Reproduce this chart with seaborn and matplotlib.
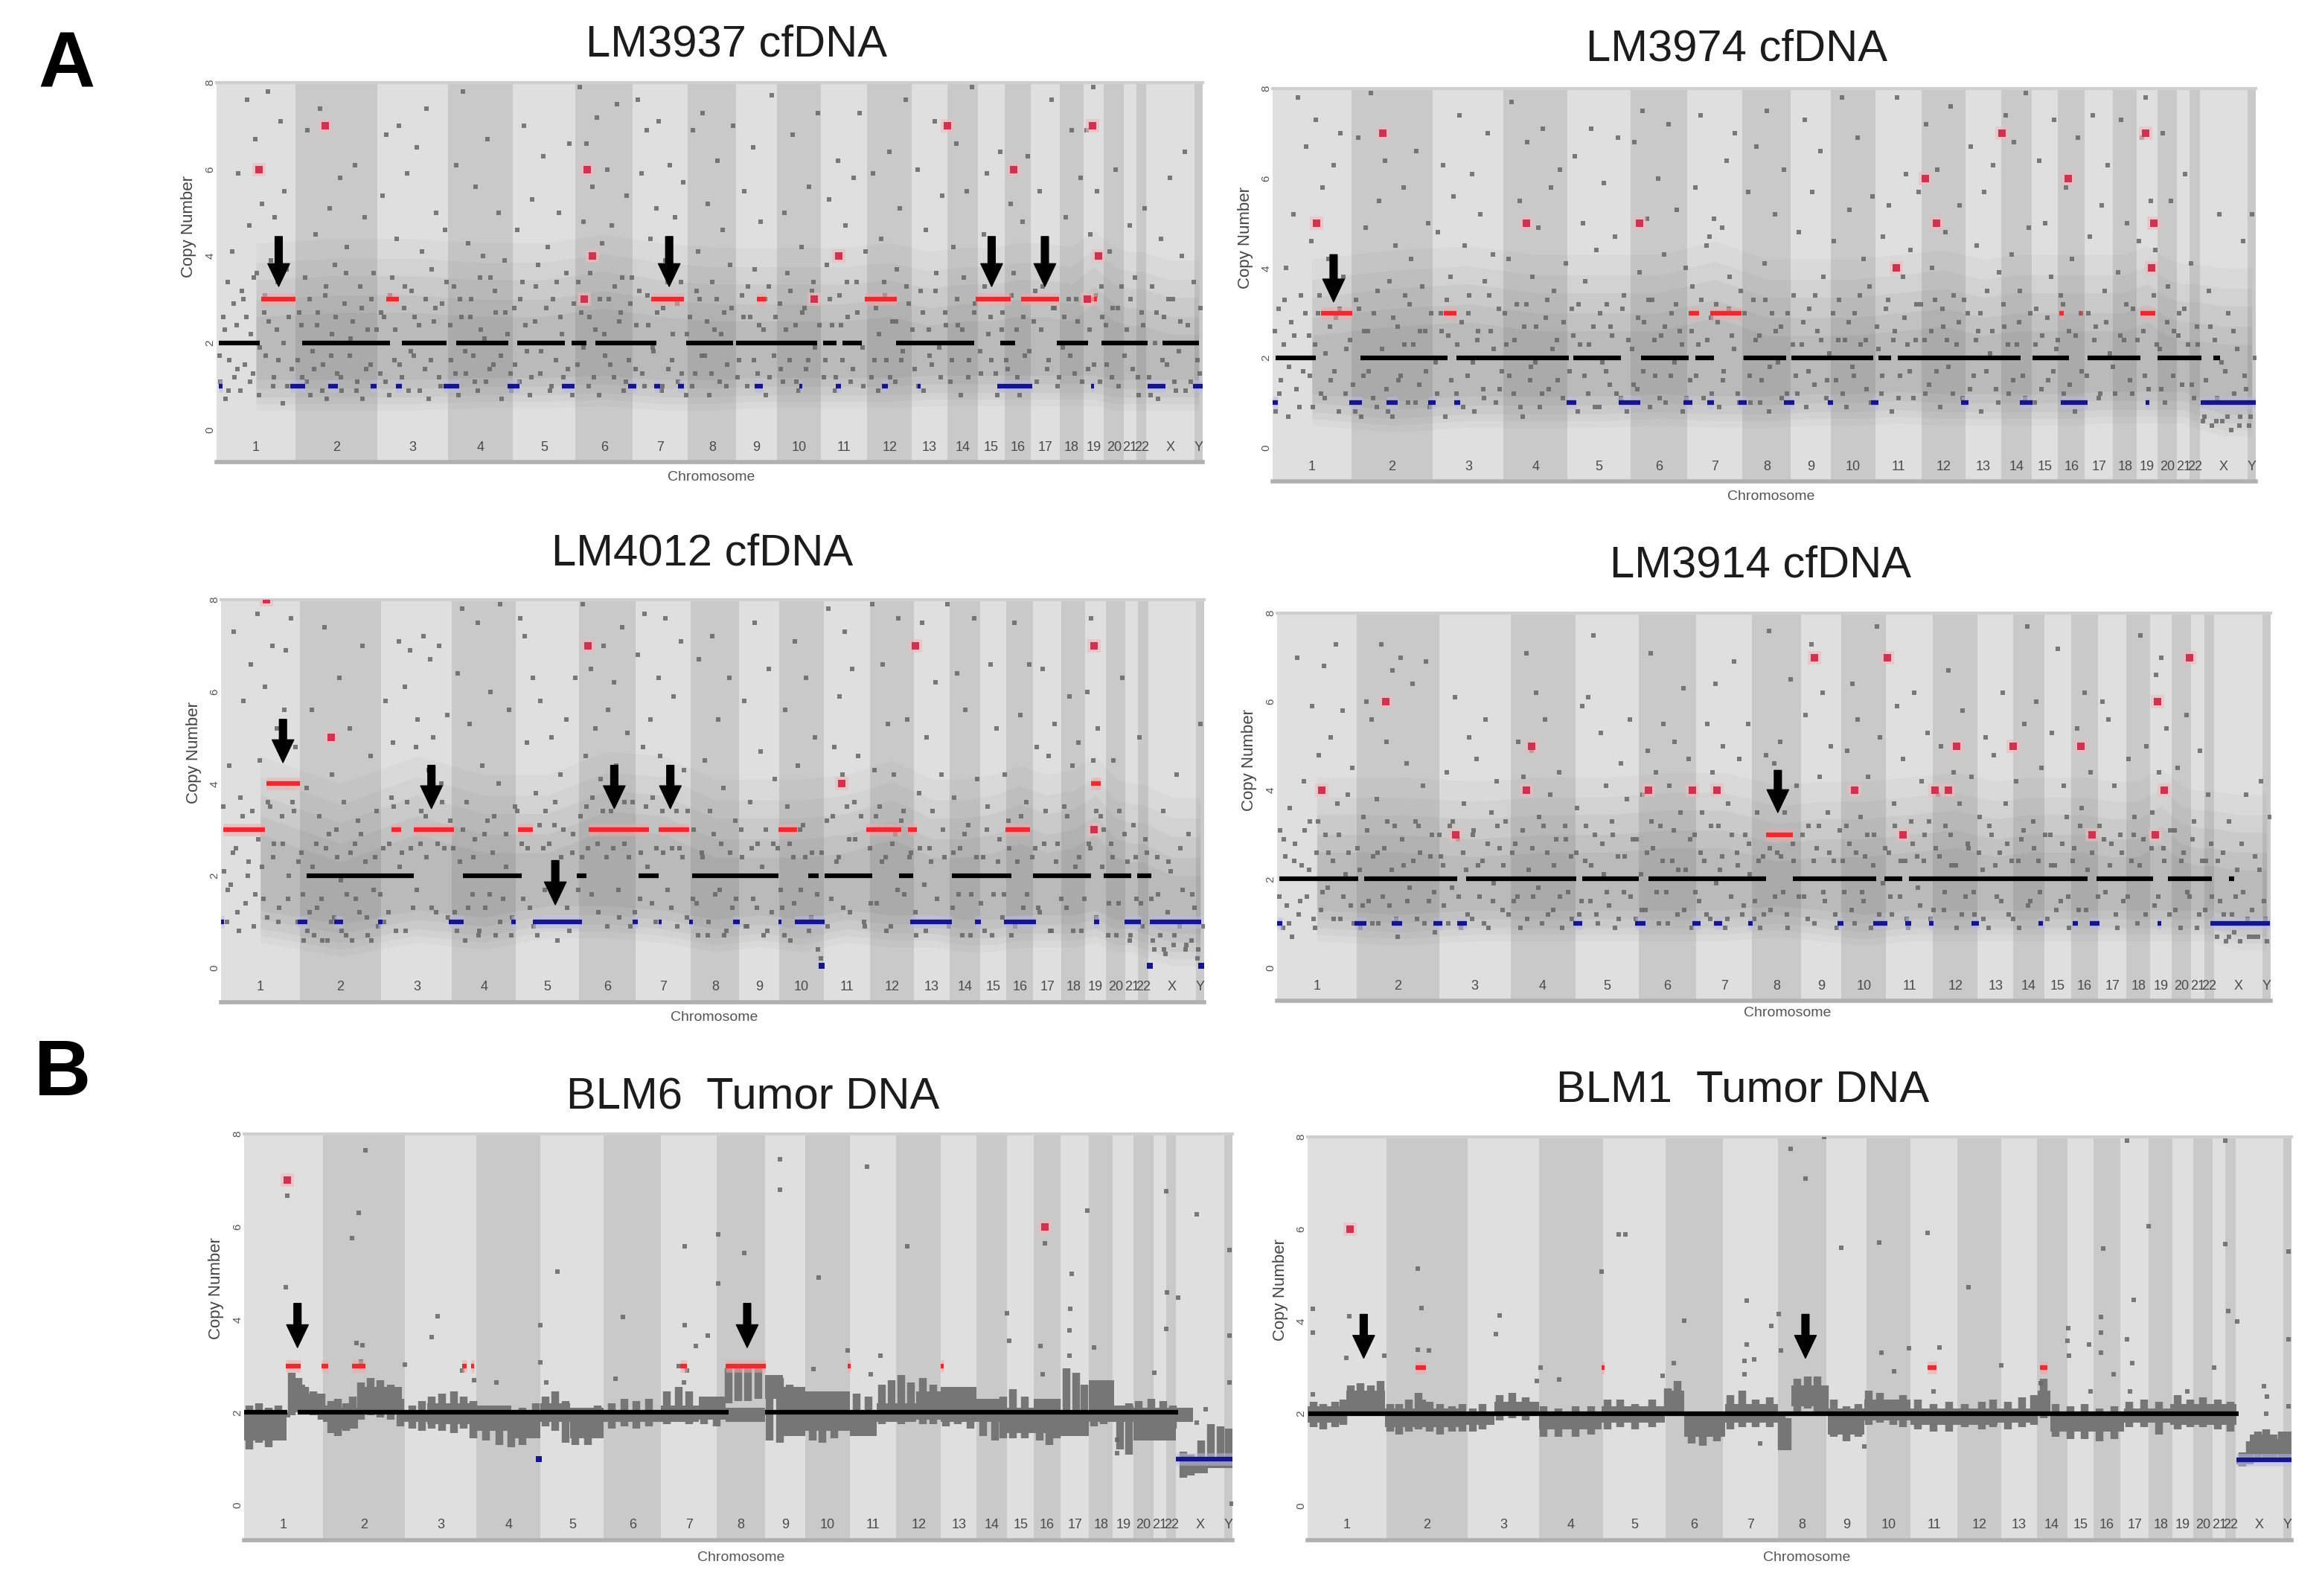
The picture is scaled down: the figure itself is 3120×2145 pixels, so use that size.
import matplotlib
matplotlib.use("Agg")
import matplotlib.pyplot as plt
import seaborn as sns
import pandas as pd

W, H = 3120, 2145

# chromosome ends along the genome axis, 0-1000
chrom_names = ['1','2','3','4','5','6','7','8','9','10','11','12','13','14','15','16','17','18','19','20','21','22','X','Y']
chrom_end = [80,163,235,300,364,422,478,527,568,613,660,705,741,772,799,826,855,879,900,920,933,943,992,1000]
cn_ticks = [0,2,4,6,8]

# soft layers of the cfDNA cloud: shift of the upper / lower edge, opacity
cloud_top_shift = [1.0,0.55,0.15,-0.3,-0.7]
cloud_low_shift = [-0.25,-0.1,0.05,0.25,0.45]
cloud_alpha = [0.05,0.06,0.07,0.08,0.09]

# ---- LM3937
lm3937_black = [(2,44),(87,176),(188,233),(243,296),(305,353),(360,375),(384,446),(476,524),(527,609),(615,629),(635,654),(689,768),(795,810),(852,884),(897,944),(959,996)]
lm3937_red = [(45,80),(172,185),(441,474),(657,690),(770,805),(816,854),(548,557),(885,893)]
lm3937_blue = [(2,6),(75,90),(113,123),(156,162),(182,188),(230,246),(295,307),(350,363),(417,426),(444,450),(468,474),(546,554),(591,594),(628,633),(675,681),(711,714),(792,827),(887,890),(944,962),(990,1000)]
lm3937_spots = [(43,6),(110,7),(376,6),(381,4),(373,3),(631,4),(741,7),(808,6),(888,7),(894,4),(883,3),(606,3)]
lm3937_arrows = [(63,4.45,3.3),(459,4.45,3.3),(786,4.45,3.3),(840,4.45,3.3)]
lm3937_hi = [3.3,3.4,3.4,3.3,3.3,3.5,3.3,3.2,3.2,3.2,3.2,3.3,3.1,3.2,3.2,3.3,3.3,3.2,3.6,3.2,3.1,3.1,2.9,2.9]
lm3937_lo = [0.7,0.7,0.7,0.75,0.75,0.8,0.7,0.7,0.75,0.75,0.75,0.75,0.8,0.8,0.8,0.8,0.8,0.8,0.8,0.7,0.7,0.7,0.7,0.7]
lm3937_probes = [(4,1.1),(7,2.6),(9,0.7),(11,3.4),(13,1.6),(16,4.1),(18,1.2),(20,2.4),(22,5.9),(24,0.9),(27,3.0),(29,1.5),(31,7.6),(33,4.7),(35,2.2),(37,1.3),(39,6.7),(41,3.6),(43,0.8),(46,5.2),(48,2.7),(50,1.7),(52,7.8),(55,3.9),(57,1.0),(59,4.9),(61,2.3),(63,1.6),(65,7.1),(67,0.6),(69,5.5),(71,3.7),(73,2.6),(76,1.4),
(84,2.7),(87,1.2),(90,3.5),(92,6.9),(95,0.8),(97,1.8),(100,4.5),(102,2.4),(105,7.4),(108,1.5),(110,3.1),(112,0.7),(115,5.1),(117,2.2),(120,3.8),(122,1.3),(125,5.8),(127,0.9),(130,2.9),(132,4.2),(135,1.7),(138,2.5),(140,6.1),(143,1.1),(146,3.3),(148,0.7),(150,4.9),(153,2.3),(156,1.5),(159,3.6),
(166,1.3),(168,5.4),(170,2.6),(172,6.8),(175,0.8),(178,3.5),(180,1.6),(183,4.4),(185,7.0),(188,1.2),(190,2.8),(193,5.9),(195,0.9),(198,3.2),(200,1.7),(203,6.5),(205,2.4),(208,4.1),(211,1.4),(213,7.4),(215,0.7),(218,3.7),(220,2.5),(223,5.0),(226,1.2),(229,2.9),(232,4.6),
(238,1.6),(241,3.3),(243,6.1),(245,0.8),(248,2.6),(250,7.8),(253,1.3),(255,4.3),(258,3.0),(260,1.7),(263,5.6),(265,0.9),(268,2.3),(270,4.0),(273,1.1),(275,6.7),(278,3.5),(281,1.5),(283,2.7),(286,5.0),(289,0.7),(292,3.9),(295,2.2),(298,1.3),
(302,2.8),(305,4.6),(307,1.1),(310,3.4),(312,7.0),(315,1.8),(318,0.8),(320,5.3),(323,2.5),(326,3.8),(328,1.3),(331,6.3),(333,2.0),(336,4.2),(338,0.9),(341,3.0),(344,1.6),(347,5.0),(349,2.6),(352,1.2),(355,3.6),(358,6.6),(361,0.8),
(366,1.5),(368,7.9),(370,2.7),(372,4.8),(375,6.6),(377,1.0),(379,3.6),(381,5.6),(384,2.3),(386,7.2),(388,0.8),(391,4.3),(394,1.7),(396,6.0),(398,3.0),(401,4.7),(403,1.2),(406,7.5),(408,2.5),(411,3.5),(413,0.9),(416,5.4),(418,1.6),(420,2.9),
(425,1.4),(427,7.6),(429,3.2),(431,5.9),(434,1.0),(436,6.9),(438,2.4),(440,4.4),(443,1.8),(446,5.1),(448,7.1),(451,0.9),(453,2.8),(455,3.9),(458,1.4),(460,6.1),(463,2.2),(465,4.9),(468,1.1),(471,3.4),(473,5.7),(476,0.8),
(480,2.6),(483,6.9),(485,1.3),(488,4.1),(490,3.0),(493,7.3),(495,1.7),(498,5.2),(500,0.8),(503,3.4),(505,2.3),(508,6.2),(510,1.1),(513,4.6),(515,2.7),(518,1.5),(521,3.8),(524,7.0),
(530,1.6),(533,3.1),(535,5.5),(538,1.0),(541,2.6),(544,6.5),(546,3.7),(549,1.3),(552,4.8),(555,2.3),(557,0.8),(560,3.3),(563,7.7),(565,1.7),
(571,2.9),(574,1.1),(576,5.0),(579,3.6),(581,1.6),(584,6.8),(587,2.4),(590,0.9),(593,4.2),(596,2.8),(598,1.4),(601,5.6),(604,3.2),(607,1.9),(610,7.3),
(616,1.2),(619,3.8),(621,5.3),(624,2.4),(627,0.9),(630,6.2),(632,3.1),(635,1.6),(638,4.7),(640,2.6),(643,1.1),(646,5.8),(649,3.4),(652,7.3),(655,1.9),(658,4.1),
(664,1.2),(666,5.9),(669,2.8),(671,0.9),(674,4.4),(677,3.4),(679,1.6),(682,6.4),(685,2.5),(688,1.1),(690,3.7),(693,5.1),(696,1.8),(699,7.6),(702,2.9),
(708,1.4),(711,6.0),(714,3.2),(717,0.9),(719,4.6),(722,2.3),(725,1.5),(728,7.1),(730,3.6),(733,1.9),(736,5.4),(739,2.7),
(744,1.1),(747,4.2),(750,6.6),(752,2.4),(755,0.8),(758,3.5),(761,5.5),(763,1.6),(766,7.9),(769,2.9),
(775,1.3),(778,4.5),(781,5.9),(783,2.2),(786,1.6),(789,3.7),(792,0.8),(795,6.4),(797,2.7),
(802,1.4),(805,5.2),(808,3.6),(811,2.3),(814,0.8),(817,4.8),(820,1.7),(823,6.3),
(829,2.5),(832,1.1),(835,5.5),(838,3.3),(841,4.2),(844,1.6),(847,7.6),(850,2.8),(853,1.0),
(858,1.9),(861,4.9),(864,3.0),(867,6.9),(870,1.3),(873,2.5),(876,5.8),
(882,6.9),(884,1.4),(886,4.5),(889,7.9),(891,3.1),(893,5.5),(896,1.1),(898,2.6),
(903,1.5),(906,4.1),(909,2.8),(912,6.0),(915,1.0),(918,3.3),
(923,2.3),(926,4.7),(929,1.4),(931,3.5),(935,0.8),(938,2.7),(941,5.1),
(946,1.2),(949,3.3),(952,2.0),(955,0.7),(958,4.4),(961,2.6),(964,1.5),(967,5.8),(970,3.0),(973,0.9),(976,1.8),(979,4.0),(982,6.4),(985,2.4),(988,1.1),(991,3.4),(995,1.6),(998,2.8)]
lm3937_dense = [(3,1.7),(8,2.3),(12,0.9),(17,2.9),(21,1.4),(26,3.2),(30,2.6),(34,1.1),(38,3.5),(44,1.9),(49,3.1),(53,2.5),(58,1.2),(62,3.4),(68,2.0),(72,1.0),(78,3.0),(82,1.6),(86,2.4),(91,1.1),(94,3.0),(99,1.4),(103,2.7),(107,0.9),(111,3.3),(116,1.7),(121,2.6),(126,1.2),(131,3.6),(136,2.1),(142,0.9),(147,2.8),(152,1.4),(157,3.0),(162,2.3),
(167,2.7),(171,1.1),(176,3.1),(181,2.3),(186,1.5),(191,3.3),(197,1.8),(201,2.6),(206,0.9),(212,3.0),(217,1.6),(222,2.8),(227,1.0),(233,3.4),(237,2.4),(242,1.3),(247,3.0),(252,1.8),(257,2.6),(262,1.1),(267,3.5),(272,2.1),(277,1.4),(282,3.2),(288,1.7),(293,2.7),(299,0.9),
(303,1.5),(308,3.0),(313,2.4),(319,1.2),(324,3.3),(329,1.8),(334,2.8),(340,1.0),(345,3.4),(350,2.2),(356,1.4),(362,2.9),(367,3.4),(372,1.9),(378,2.6),(383,1.2),(389,3.0),(393,2.2),(399,1.5),(404,3.3),(410,2.7),(415,1.1),(421,3.5),
(426,2.4),(432,1.3),(437,3.1),(442,1.9),(447,2.7),(452,1.0),(457,3.4),(462,1.6),(467,2.9),(472,1.3),(477,2.2),(482,1.0),(487,3.2),(492,1.7),(497,2.5),(502,1.3),(507,3.0),(512,2.2),(517,1.0),(522,2.8),(528,1.2),(534,2.6),(539,3.3),(545,1.6),(550,2.4),(556,3.0),(561,1.2),(567,2.6),
(572,1.4),(577,2.3),(582,3.2),(588,1.1),(594,2.7),(600,1.6),(605,3.4),(611,2.4),(617,1.6),(622,3.0),(628,1.2),(633,2.4),(639,3.4),(645,1.4),(650,2.7),(656,1.0),(661,3.0),(667,1.6),(672,2.2),(678,3.1),(683,1.2),(689,2.5),(694,1.6),(700,3.3),(706,2.3),
(712,1.0),(716,2.7),(723,1.7),(729,3.2),(734,1.2),(740,2.4),(746,1.6),(751,3.0),(756,2.3),(762,1.2),(768,2.7),(774,1.8),(779,3.3),(785,2.6),(790,1.3),(796,2.3),(801,1.6),(806,3.1),(812,1.2),(818,2.6),(824,1.8),(830,3.2),(836,2.3),(842,1.4),(848,2.8),(854,1.2),(860,2.6),(866,1.7),(872,3.0),(878,1.1),(885,2.3),(890,1.5),(897,3.3),(902,2.4),(908,1.2),(914,2.8),(921,1.7),(927,3.0),(934,1.2),(940,2.4),(947,0.8),(953,2.7),(959,1.6),(965,3.0),(971,1.1),(977,2.5),(983,0.9),(990,2.0),(997,1.3)]

# ---- LM3974
lm3974_black = [(3,44),(89,178),(187,301),(306,354),(375,423),(430,449),(479,522),(528,611),(616,629),(636,761),(773,810),(829,883),(900,945),(957,964)]
lm3974_red = [(49,81),(174,187),(423,434),(445,477),(800,805),(821,823),(883,898)]
lm3974_blue = [(0,5),(78,91),(116,127),(158,166),(185,191),(299,309),(352,374),(418,427),(442,449),(474,482),(520,531),(565,570),(609,616),(700,708),(760,773),(802,829),(888,892),(944,1000)]
lm3974_spots = [(45,5),(112,7),(258,5),(373,5),(634,4),(664,6),(675,5),(742,7),(809,6),(888,7),(896,5),(894,4)]
lm3974_arrows = [(62,4.3,3.25)]
lm3974_hi = [3.2,3.4,3.5,3.3,3.3,3.3,3.6,3.2,3.2,3.2,3.3,3.4,3.2,3.3,3.3,3.3,3.3,3.3,3.5,3.2,3.1,3.1,3.0,3.0]
lm3974_lo = [0.75,0.6,0.7,0.7,0.7,0.75,0.7,0.7,0.75,0.75,0.8,0.75,0.75,0.75,0.75,0.75,0.8,0.8,0.8,0.8,0.8,0.7,0.5,0.5]
lm3974_probes = [(3,0.8),(6,3.1),(8,1.5),(11,2.3),(14,4.0),(16,0.7),(19,2.8),(21,5.2),(24,1.3),(26,7.8),(29,3.4),(31,1.7),(34,6.7),(37,2.5),(39,4.6),(41,0.9),(44,7.3),(46,3.0),(49,1.2),(51,5.8),(54,2.1),(57,4.2),(59,1.5),(62,6.3),(64,2.9),(67,0.8),(69,7.0),(72,3.8),(75,2.2),
(82,1.4),(85,3.3),(87,6.9),(90,0.7),(93,2.6),(95,4.9),(98,1.7),(100,7.9),(103,3.0),(106,0.9),(108,5.5),(111,2.2),(114,6.4),(116,1.3),(119,3.7),(122,0.7),(125,4.5),(127,2.7),(130,1.6),(133,5.8),(135,3.4),(138,1.0),(141,4.2),(143,2.3),(146,6.6),(149,1.4),(152,3.6),(155,2.6),(158,5.0),(160,0.9),
(166,1.9),(168,4.8),(171,3.0),(173,6.3),(176,0.7),(179,2.5),(181,3.8),(184,5.6),(187,1.2),(190,7.4),(192,2.8),(195,4.5),(198,1.6),(200,3.4),(203,6.1),(205,0.8),(208,2.4),(211,5.2),(214,1.3),(216,3.7),(219,7.0),(222,2.6),(224,4.3),(227,1.0),(230,3.1),(233,1.7),
(238,2.3),(240,4.2),(243,7.7),(245,1.2),(248,3.2),(251,5.5),(254,0.7),(256,2.7),(259,6.8),(262,1.5),(264,3.8),(267,1.9),(270,4.9),(272,0.9),(275,7.1),(278,2.9),(281,1.3),(283,5.8),(286,3.5),(289,2.4),(292,6.2),(295,1.1),(298,4.1),
(302,1.7),(304,3.1),(307,6.5),(310,0.8),(313,2.3),(316,5.0),(318,3.7),(321,1.2),(324,7.1),(326,2.7),(329,4.4),(332,0.9),(335,1.9),(337,5.9),(340,3.2),(343,1.4),(345,2.5),(348,4.7),(351,6.9),(354,1.1),(357,3.4),(360,0.8),
(366,2.2),(368,6.8),(371,1.3),(373,3.9),(376,7.5),(378,2.8),(381,5.1),(384,0.9),(386,3.3),(389,1.6),(392,6.0),(395,2.5),(398,4.3),(400,1.0),(403,7.2),(406,3.0),(409,1.9),(411,5.3),(414,2.6),(417,0.8),(420,4.0),
(425,1.5),(427,3.6),(430,5.8),(433,2.3),(435,7.4),(438,1.1),(441,4.5),(444,4.7),(446,2.9),(449,5.1),(451,3.2),(454,0.9),(457,4.9),(459,1.7),(462,6.4),(465,3.8),(467,2.5),(470,7.0),(473,1.2),(476,3.5),
(481,2.0),(484,5.7),(486,1.0),(489,3.3),(492,6.7),(495,2.5),(497,1.5),(500,4.1),(503,7.5),(505,0.8),(508,3.0),(511,5.2),(514,1.9),(517,2.7),(520,6.2),(523,1.2),
(530,3.4),(532,1.6),(535,4.8),(538,2.3),(541,7.3),(543,0.9),(546,3.1),(549,5.7),(551,1.4),(554,2.6),(557,6.6),(560,3.8),(563,1.1),(566,2.1),
(571,4.6),(573,1.5),(576,3.3),(579,7.8),(582,2.4),(584,0.9),(587,5.3),(590,1.8),(592,3.0),(595,6.9),(598,2.3),(601,4.2),(604,1.3),(607,3.6),(610,5.6),
(616,2.2),(619,1.2),(621,4.7),(624,3.1),(627,5.4),(630,0.8),(633,2.6),(635,7.8),(638,1.6),(641,3.8),(644,6.1),(646,2.3),(649,4.4),(652,1.1),(655,3.2),(657,5.7),
(663,2.4),(665,7.2),(668,1.4),(671,4.0),(674,3.3),(676,6.2),(679,0.9),(682,2.7),(684,4.8),(687,1.8),(690,7.6),(693,3.4),(696,2.3),(699,5.4),(702,1.1),
(707,3.0),(710,6.7),(713,1.6),(716,4.5),(718,2.6),(721,0.8),(724,5.7),(727,3.5),(730,2.1),(733,6.3),(736,1.3),(739,3.9),
(744,2.7),(746,7.4),(749,1.2),(752,4.3),(754,6.8),(757,2.3),(760,3.5),(763,1.6),(766,7.9),(769,4.9),
(775,1.0),(777,3.1),(780,6.4),(783,2.5),(786,5.0),(789,1.5),(792,3.8),(795,7.3),(797,2.2),
(802,3.4),(805,1.2),(807,5.8),(810,2.6),(813,4.2),(816,0.8),(819,6.9),(822,3.0),
(828,1.6),(831,4.7),(834,7.4),(837,2.7),(840,1.1),(843,5.4),(846,3.5),(849,6.3),(852,2.1),
(857,1.2),(860,3.9),(863,7.3),(866,2.4),(869,5.0),(872,1.5),(875,3.1),
(881,4.6),(884,6.9),(886,2.6),(888,7.8),(891,1.3),(893,5.5),(896,3.4),(898,4.4),
(902,2.2),(905,7.0),(908,1.0),(911,3.6),(914,5.5),(917,2.6),
(922,3.0),(925,1.4),(928,6.1),(931,2.3),(934,4.1),(937,1.1),(940,2.7),
(946,0.6),(949,1.5),(952,3.5),(955,0.5),(958,2.4),(961,1.1),(963,5.2),(966,0.6),(969,1.7),(972,3.0),(975,0.4),(978,1.2),(981,2.2),(984,0.7),(987,4.6),(990,1.3),(993,0.5),(996,5.2),(999,2.0)]
lm3974_dense = [(2,2.6),(7,1.2),(12,3.3),(17,1.8),(22,2.5),(27,0.9),(33,3.0),(38,1.6),(43,2.3),(48,3.4),(53,1.1),(58,2.7),(63,1.7),(68,3.1),(74,1.2),(79,2.4),(84,0.8),(88,3.1),(92,1.6),(97,2.6),(102,1.1),(107,3.5),(112,2.0),(117,0.8),(123,2.9),(128,1.5),(134,2.3),(139,3.2),(145,1.0),(150,2.6),(156,1.7),(161,3.0),
(167,1.2),(172,2.6),(177,3.3),(182,1.5),(188,2.3),(194,0.9),(199,3.0),(204,1.9),(209,2.6),(215,1.1),(220,3.4),(225,2.2),(231,1.3),(236,3.0),(241,1.6),(246,2.4),(252,0.9),(258,3.2),(263,1.8),(268,2.7),(274,1.2),(279,3.3),(285,2.2),(290,1.5),(296,2.8),
(301,1.0),(306,2.5),(311,3.2),(317,1.6),(322,2.3),(328,0.9),(333,3.0),(339,1.7),(344,2.7),(350,1.2),(356,3.1),(362,2.4),(367,1.4),(372,2.9),(377,1.7),(382,3.3),(388,2.4),(394,1.1),(399,2.7),(405,1.6),(410,3.2),(416,2.3),(421,1.1),
(426,2.6),(431,1.6),(436,3.3),(442,2.4),(447,1.2),(453,2.8),(458,1.5),(464,3.1),(469,2.2),(475,1.0),(480,3.0),(485,1.6),(491,2.4),(496,1.0),(501,3.3),(506,1.8),(512,2.6),(518,1.1),(524,3.0),(529,2.3),(534,1.2),(540,2.8),(545,1.7),(552,3.4),(558,2.4),(564,1.5),
(570,3.0),(575,2.4),(580,1.2),(586,2.8),(591,1.6),(597,3.4),(603,2.4),(609,1.0),(615,2.7),(620,1.6),(626,3.3),(631,2.4),(637,1.1),(643,2.9),(648,1.7),(654,2.4),(659,3.2),(664,1.2),(670,2.6),(675,1.7),(681,3.1),(686,2.4),(692,1.2),(698,2.8),(703,3.3),
(709,1.3),(715,2.4),(720,3.0),(726,1.7),(732,2.6),(738,1.0),(743,3.2),(748,2.3),(753,1.5),(759,2.8),(765,1.1),(771,3.0),(776,2.3),(782,1.3),(788,2.9),(794,1.7),(799,2.4),(804,3.2),(811,1.4),(817,2.5),(823,1.7),(830,3.0),(836,2.4),(842,1.2),(848,2.8),(855,1.8),(862,2.5),(868,3.2),(874,1.2),(880,2.4),(887,1.6),(892,3.0),(899,2.3),(904,1.3),(910,2.8),(916,1.6),(921,2.5),(927,3.1),(935,1.4),(941,2.3),(948,0.7),(954,2.7),(960,0.6),(965,1.9),(971,0.7),(977,2.6),(983,0.5),(989,1.6),(995,0.7)]

# ---- LM4012
lm4012_black = [(87,196),(246,306),(362,372),(425,445),(479,567),(597,608),(614,662),(690,704),(743,804),(826,885),(898,926),(932,946)]
lm4012_red = [(2,45),(173,183),(196,237),(302,317),(374,435),(445,476),(567,586),(656,692),(798,823),(699,708)]
lm4012_red4 = [(46,80),(885,895)]
lm4012_blue = [(0,3),(78,88),(115,124),(160,164),(232,247),(295,300),(317,367),(419,424),(445,448),(476,480),(521,528),(567,570),(584,614),(701,743),(767,773),(796,829),(888,893),(919,936),(945,997)]
lm4012_spots = [(46,8),(112,5),(373,7),(706,7),(888,7),(631,4),(888,3)]
lm4012_blue_spots = [(611,0.05),(945,0.05),(997,0.05)]
lm4012_arrows = [(63,5.4,4.46),(214,4.4,3.46),(400,4.4,3.46),(457,4.4,3.46),(340,2.33,1.37)]
lm4012_hi = [3.6,3.0,3.6,3.2,3.2,3.7,3.6,3.1,3.1,3.1,3.2,3.5,3.1,3.1,3.2,3.4,3.2,3.3,3.6,3.1,3.0,3.0,2.7,2.7]
lm4012_lo = [0.8,0.5,0.8,0.65,0.9,0.9,0.8,0.6,0.7,0.6,0.8,0.7,0.7,0.6,0.6,0.7,0.7,0.7,0.8,0.6,0.6,0.5,0.3,0.3]
lm4012_probes = [(3,2.1),(6,1.0),(8,4.4),(10,1.8),(13,7.3),(15,2.6),(18,0.8),(20,3.7),(23,5.8),(25,1.4),(28,2.3),(30,6.6),(32,3.4),(35,1.6),(37,7.7),(39,4.5),(42,2.2),(45,6.1),(47,1.1),(50,3.5),(52,7.0),(54,2.7),(57,5.2),(59,1.3),(62,3.3),(64,5.6),(66,6.9),(69,2.0),(71,7.6),(73,3.6),(76,4.8),(78,1.0),
(82,2.5),(84,0.6),(87,3.9),(90,1.2),(92,5.6),(95,0.7),(97,2.7),(100,3.3),(102,1.5),(105,7.4),(108,0.6),(110,2.9),(113,4.2),(115,1.1),(118,2.4),(120,6.3),(123,0.8),(125,3.6),(128,1.6),(131,5.2),(133,0.6),(136,2.7),(139,3.2),(141,1.2),(144,7.0),(147,2.3),(149,0.7),(152,4.6),(155,1.7),(158,3.4),(160,0.9),
(165,2.6),(167,5.8),(170,1.2),(173,3.7),(175,4.9),(178,0.8),(181,7.1),(184,2.5),(187,6.1),(189,3.6),(192,6.9),(195,1.3),(198,4.8),(200,5.4),(203,2.7),(206,7.2),(208,3.3),(211,4.3),(213,6.7),(216,5.0),(219,1.2),(222,7.0),(224,4.0),(227,2.6),(230,5.5),(233,3.2),
(238,1.2),(241,6.4),(243,2.3),(245,7.8),(248,0.6),(250,3.6),(253,5.3),(256,1.6),(258,2.8),(261,7.5),(263,0.8),(266,4.4),(269,1.3),(271,3.2),(274,6.0),(276,2.5),(279,0.7),(282,4.0),(284,7.9),(287,1.5),(290,2.9),(293,5.6),(296,1.1),(299,3.5),
(304,7.6),(306,2.7),(309,7.2),(311,4.9),(314,1.3),(317,6.3),(320,3.8),(322,0.7),(325,5.8),(328,2.6),(330,3.4),(333,1.0),(336,5.0),(339,3.1),(342,0.6),(345,4.2),(348,3.0),(351,5.4),(354,0.8),(357,2.5),(360,6.3),
(366,3.3),(368,7.9),(371,4.6),(373,2.6),(376,6.5),(378,3.7),(381,5.2),(384,1.2),(386,4.1),(389,7.0),(392,2.4),(394,5.6),(397,3.4),(400,6.2),(402,4.4),(405,1.1),(408,7.4),(410,2.7),(413,5.1),(416,0.9),(419,3.6),
(424,6.8),(426,1.5),(429,4.8),(431,7.7),(434,2.2),(437,5.4),(439,3.7),(442,1.0),(445,6.3),(447,4.6),(450,2.5),(452,7.6),(455,4.1),(458,1.3),(460,5.9),(463,3.4),(466,2.6),(468,7.1),(471,4.3),(474,1.1),
(481,3.0),(484,1.4),(486,6.7),(489,2.5),(492,4.5),(495,0.7),(497,3.4),(500,7.2),(503,1.6),(506,5.4),(509,2.7),(511,3.9),(514,0.8),(517,6.3),(520,1.3),(523,3.2),
(530,2.4),(532,5.8),(535,0.9),(538,3.6),(541,1.5),(543,7.5),(546,2.7),(549,4.7),(552,0.7),(554,3.0),(557,6.5),(560,1.2),(563,4.1),(566,2.6),
(571,1.3),(574,5.6),(576,3.5),(579,0.6),(582,2.4),(584,7.1),(587,4.4),(590,1.7),(592,3.1),(595,6.3),(598,0.8),(601,2.5),(604,5.0),(607,0.4),(610,0.2),
(616,3.2),(618,7.8),(621,1.5),(624,4.8),(626,2.3),(629,5.9),(632,4.2),(634,7.3),(637,3.5),(640,1.2),(642,6.5),(645,2.8),(648,4.6),(651,3.3),(654,1.0),
(660,2.6),(662,7.9),(665,4.3),(667,1.4),(670,3.5),(673,6.6),(676,2.4),(678,5.3),(681,0.9),(684,4.2),(686,2.9),(689,7.6),(692,3.2),(695,1.6),(698,5.4),(702,2.5),
(707,0.7),(710,3.8),(713,7.5),(715,1.8),(718,5.0),(721,2.6),(724,3.4),(727,6.2),(730,1.0),(733,4.2),(736,2.4),(739,7.9),
(744,1.3),(746,3.7),(749,6.4),(752,2.6),(754,0.7),(757,5.6),(760,3.1),(763,1.6),(766,7.6),(769,4.1),
(775,2.4),(777,0.8),(780,3.5),(783,6.6),(786,1.6),(789,5.2),(792,2.8),(795,1.1),(797,4.2),
(801,3.2),(804,0.7),(807,7.5),(810,2.3),(813,5.5),(816,1.3),(819,3.6),(822,6.6),
(828,2.6),(830,4.8),(833,1.2),(836,6.5),(839,3.4),(842,4.6),(845,0.8),(848,5.3),(851,2.7),
(858,3.5),(860,1.3),(863,5.9),(866,4.4),(869,2.2),(872,4.9),(875,0.8),
(881,6.0),(883,2.7),(885,7.6),(887,4.5),(890,1.1),(892,5.2),(895,3.3),(898,3.0),
(903,1.4),(905,2.7),(908,4.5),(911,0.7),(914,3.4),(917,6.3),
(922,2.3),(925,0.7),(928,3.1),(931,1.5),(934,5.0),(937,0.9),(940,2.8),
(946,1.5),(949,0.4),(952,2.4),(955,0.7),(958,3.4),(961,0.3),(963,1.2),(966,2.1),(969,0.5),(972,4.2),(975,0.9),(978,1.7),(981,0.4),(984,2.9),(987,0.6),(990,1.3),(993,0.2),(996,5.3),(999,0.9)]
lm4012_dense = [(2,3.5),(7,1.7),(12,2.5),(17,1.2),(22,3.3),(27,2.0),(33,0.9),(38,2.8),(43,1.5),(48,3.6),(53,2.4),(58,1.0),(63,2.7),(68,1.5),(74,3.4),(79,2.3),(83,1.6),(88,0.8),(93,2.2),(98,1.3),(103,0.6),(107,2.6),(112,1.0),(117,3.0),(122,1.9),(127,0.7),(132,2.5),(137,1.5),(142,2.9),(148,1.1),(153,0.6),(157,2.4),(162,1.6),
(166,1.0),(171,2.7),(176,3.5),(182,2.2),(188,0.8),(193,2.6),(199,1.7),(204,3.4),(209,2.4),(214,1.3),(220,2.7),(225,3.6),(231,1.1),(236,2.6),(240,0.8),(246,3.0),(251,1.3),(257,2.4),(262,0.7),(268,2.9),(273,1.6),(278,3.3),(284,1.0),(290,2.2),(295,0.7),
(301,3.4),(307,1.5),(312,2.6),(318,0.9),(324,3.1),(329,1.7),(334,2.7),(340,3.6),(346,2.4),(352,1.3),(358,2.9),(363,1.7),(367,2.4),(372,3.5),(377,1.6),(383,2.7),(388,3.4),(393,0.9),(399,2.6),(404,1.7),(410,3.6),(415,2.4),(421,1.2),
(427,2.5),(432,3.5),(438,1.4),(443,2.6),(449,3.4),(454,1.7),(459,2.6),(464,0.9),(469,2.4),(475,3.4),(480,1.5),(485,0.7),(490,2.4),(496,1.0),(501,2.9),(507,1.7),(512,0.7),(518,2.5),(524,1.5),(529,3.0),(534,0.9),(540,2.6),(545,1.3),(550,2.2),(556,0.8),(562,2.7),
(569,1.7),(573,0.7),(578,2.7),(583,1.4),(589,3.0),(594,2.4),(600,1.1),(606,1.6),(611,2.5),(617,0.9),(622,3.3),(628,2.4),(633,1.3),(639,2.8),(644,3.6),(650,2.0),(655,0.9),(661,1.4),(666,3.3),(672,2.3),(677,0.8),(683,2.7),(688,1.7),(694,3.4),(700,2.4),
(706,1.2),(711,2.6),(717,0.8),(722,2.3),(728,1.5),(734,3.0),(740,0.9),(745,2.5),(750,1.6),(756,2.9),(762,0.7),(768,2.4),(773,1.4),(779,3.0),(784,0.7),(790,2.3),(796,1.6),(802,2.6),(808,0.9),(814,3.3),(820,1.6),(825,2.4),(831,1.3),(837,2.7),(843,0.8),(849,2.3),(855,1.5),(861,3.3),(867,0.8),(873,2.4),(878,1.5),(884,2.6),(890,3.4),(896,2.2),(902,0.7),(907,2.4),(913,1.4),(919,2.9),(924,0.6),(930,2.4),(936,1.4),(942,2.5),(948,0.6),(953,1.6),(959,0.4),(964,2.3),(970,0.7),(976,2.6),(982,0.5),(988,1.6),(994,0.4)]

# ---- LM3914
lm3914_black = [(2,82),(88,181),(190,301),(307,364),(374,492),(519,603),(611,629),(636,816),(825,882),(897,941),(958,963)]
lm3914_red = [(492,519)]
lm3914_blue = [(0,5),(78,90),(115,126),(157,166),(181,191),(298,307),(360,371),(418,426),(440,448),(474,479),(564,570),(600,614),(632,638),(656,661),(699,706),(766,771),(801,806),(818,828),(886,890),(939,999)]
lm3914_spots = [(45,4),(109,6),(180,3),(251,4),(256,5),(374,4),(418,4),(443,4),(541,7),(614,7),(581,4),(630,3),(662,4),(676,4),(684,5),(741,5),(809,5),(820,3),(884,3),(893,4),(886,6),(918,7)]
lm3914_arrows = [(504,4.45,3.5)]
lm3914_hi = [3.3,3.3,3.2,3.3,3.3,3.4,3.4,3.1,3.2,3.2,3.3,3.4,3.2,3.3,3.3,3.3,3.2,3.2,3.5,3.1,3.0,3.0,2.9,2.9]
lm3914_lo = [0.85,0.75,0.85,0.85,0.85,0.85,0.85,0.95,0.85,0.75,0.85,0.85,0.85,0.85,0.85,0.85,0.85,0.85,0.85,0.85,0.85,0.85,0.65,0.65]
lm3914_probes = [(3,3.1),(6,0.9),(8,2.5),(10,1.4),(13,3.6),(15,0.7),(18,2.8),(20,7.0),(22,1.2),(25,2.3),(27,4.2),(30,1.6),(33,3.3),(35,5.9),(38,0.9),(40,2.6),(42,4.8),(44,1.3),(47,6.8),(49,3.0),(51,1.8),(54,5.2),(56,2.4),(59,7.3),(61,3.7),(64,1.1),(66,5.8),(69,2.1),(71,3.9),(74,1.4),(76,4.5),
(81,2.7),(84,0.9),(87,3.4),(90,6.0),(92,1.5),(95,5.6),(97,2.5),(100,3.8),(102,1.0),(105,7.3),(108,2.7),(110,5.1),(113,1.4),(116,6.7),(118,3.2),(121,0.7),(124,7.0),(127,2.3),(130,4.6),(133,1.8),(136,6.4),(139,3.3),(141,1.1),(144,2.6),(147,4.1),(150,6.9),(153,1.5),(156,3.0),(159,0.8),
(165,2.5),(168,1.4),(171,4.4),(174,3.2),(176,1.8),(179,6.1),(182,2.9),(185,0.9),(188,3.7),(190,2.2),(193,5.2),(196,1.1),(198,3.1),(201,4.7),(204,1.6),(207,2.4),(210,5.6),(213,0.9),(216,3.5),(218,1.9),(221,4.2),(224,2.7),(227,1.3),(230,3.3),
(238,1.5),(240,2.8),(243,5.1),(245,0.9),(248,4.3),(251,7.1),(253,2.2),(256,4.9),(258,1.6),(261,6.2),(264,3.4),(267,1.0),(270,5.6),(272,2.6),(275,3.9),(278,1.3),(281,2.9),(284,4.4),(287,0.9),(290,3.2),(293,1.7),(296,2.5),
(302,3.6),(304,1.2),(307,5.9),(310,2.4),(313,6.1),(315,1.5),(318,7.5),(320,3.0),(323,1.0),(326,5.3),(329,2.1),(331,4.1),(334,1.4),(337,3.3),(340,0.9),(343,2.5),(346,4.6),(349,1.7),(352,3.8),(355,5.6),(358,2.9),(361,1.1),
(366,2.1),(368,3.9),(371,1.3),(373,4.9),(376,7.1),(378,2.7),(381,4.4),(384,1.0),(386,3.2),(389,5.5),(392,1.7),(395,4.1),(398,2.4),(400,5.1),(403,1.2),(406,3.5),(409,6.3),(411,2.2),(414,4.7),(417,0.9),(420,3.0),
(425,1.5),(428,3.5),(430,2.4),(433,5.5),(436,1.1),(438,4.4),(441,6.4),(444,3.2),(446,2.2),(449,5.0),(451,0.9),(454,3.7),(457,1.6),(460,6.9),(463,2.6),(465,4.7),(468,1.2),(471,3.0),(474,5.5),(476,2.1),
(481,1.5),(483,3.5),(486,0.9),(489,2.5),(492,4.8),(495,7.6),(497,1.3),(500,4.6),(503,2.6),(506,5.1),(509,1.7),(511,3.5),(514,0.9),(517,6.5),(520,2.4),(523,4.1),
(530,1.6),(532,5.7),(535,3.2),(538,7.3),(541,1.0),(543,2.7),(546,4.3),(549,6.2),(551,1.5),(554,3.5),(557,5.0),(560,2.4),(563,0.9),(566,3.1),
(571,1.7),(574,4.9),(576,2.8),(579,6.4),(581,1.0),(584,5.6),(587,3.4),(590,1.5),(592,2.5),(595,4.3),(598,0.9),(601,3.0),(604,7.7),(607,5.2),(610,1.9),
(616,2.6),(619,1.2),(621,3.7),(624,5.9),(627,1.6),(630,4.7),(632,2.4),(635,0.9),(638,3.3),(641,6.2),(644,2.5),(647,1.4),(649,4.2),(652,3.0),(655,5.3),(658,1.1),
(663,2.7),(665,3.9),(668,5.0),(671,1.3),(673,3.2),(676,6.7),(679,2.3),(681,4.4),(684,0.9),(687,3.7),(690,5.8),(693,1.6),(696,2.7),(699,4.3),(702,1.2),
(707,3.4),(710,2.2),(713,5.2),(716,0.9),(719,3.0),(721,4.8),(724,1.6),(727,2.6),(730,6.2),(733,3.7),(736,1.2),(739,2.4),
(744,4.2),(747,0.9),(749,2.9),(752,5.5),(755,7.7),(758,1.5),(761,3.3),(764,6.0),(766,2.4),(769,4.5),
(775,1.1),(778,3.0),(780,5.3),(783,2.3),(786,7.2),(789,1.5),(792,4.1),(795,3.4),(797,0.9),
(802,2.7),(805,5.4),(807,1.3),(810,3.6),(813,6.2),(816,2.2),(819,4.4),(822,1.0),
(828,3.2),(831,6.0),(834,1.7),(837,5.6),(840,2.8),(843,4.1),(846,0.9),(849,3.0),(852,1.5),
(857,4.7),(860,2.4),(863,3.4),(866,1.0),(869,7.5),(872,2.9),(875,5.0),
(881,3.5),(883,1.4),(885,6.6),(888,4.4),(890,7.0),(892,2.7),(895,5.4),(898,1.2),
(903,3.1),(906,4.5),(909,0.9),(912,2.6),(915,5.7),(918,1.6),
(923,3.3),(926,0.9),(929,4.9),(931,2.4),(934,1.3),(937,3.9),(940,2.8),
(946,0.7),(949,1.5),(952,2.6),(955,0.6),(958,3.3),(961,1.2),(963,0.8),(966,2.2),(969,0.6),(972,1.7),(975,3.9),(978,0.7),(981,1.3),(984,2.5),(987,0.7),(990,4.2),(993,1.5),(996,0.6),(999,3.4)]
lm3914_dense = [(2,1.6),(7,2.9),(12,1.0),(17,2.4),(23,1.5),(28,3.1),(32,2.2),(37,1.1),(41,3.3),(46,1.7),(52,2.6),(57,1.1),(62,3.0),(67,1.6),(72,2.6),(77,1.0),(83,2.2),(86,1.4),(91,3.1),(96,1.0),(101,2.6),(106,1.6),(111,3.3),(115,2.2),(120,1.1),(126,2.9),(131,1.5),(137,2.4),(142,3.2),(148,1.0),(154,2.5),(158,1.7),(163,3.0),
(167,2.3),(172,1.0),(177,3.3),(183,1.6),(187,2.6),(192,1.2),(197,3.0),(202,2.3),(208,1.0),(212,2.8),(217,1.5),(222,3.2),(228,2.3),(233,1.2),(237,2.6),(242,1.6),(247,3.1),(252,1.1),(257,2.7),(263,1.8),(268,3.2),(273,1.2),(279,2.3),(285,1.6),(291,2.9),(297,1.1),
(301,2.6),(306,1.5),(311,3.2),(316,2.3),(321,1.2),(327,2.8),(332,1.7),(338,3.0),(344,1.1),(350,2.5),(356,1.6),(362,2.9),(367,1.3),(372,2.6),(377,3.3),(382,1.7),(388,2.4),(393,1.0),(399,3.1),(404,2.2),(410,1.3),(416,2.9),(421,1.7),
(426,2.6),(432,1.2),(437,3.2),(442,1.9),(448,2.5),(453,1.1),(458,3.0),(464,2.3),(470,1.4),(475,2.8),(480,1.1),(485,2.4),(490,1.2),(496,2.7),(501,1.6),(507,2.5),(513,1.2),(519,2.8),(525,1.6),(529,3.0),(534,1.1),(540,2.4),(545,3.2),(550,1.7),(556,2.6),(562,1.2),
(569,2.4),(573,3.2),(578,1.3),(583,2.6),(589,1.7),(594,3.0),(600,2.3),(606,1.2),(612,2.7),(617,1.6),(622,3.2),(628,2.4),(634,1.1),(640,2.8),(645,1.8),(651,2.4),(656,3.3),(661,1.3),(667,2.5),(672,1.7),(678,3.0),(683,2.3),(689,1.2),(695,2.8),(701,1.7),
(706,2.6),(711,1.1),(717,3.2),(723,2.3),(729,1.5),(735,2.8),(741,1.1),(746,2.4),(751,3.1),(756,1.4),(762,2.7),(768,1.7),(773,3.0),(779,2.3),(784,1.3),(790,2.8),(796,1.6),(801,2.4),(808,3.2),(814,1.3),(820,2.6),(826,1.6),(832,2.9),(838,2.3),(844,1.2),(850,2.6),(856,1.6),(862,3.0),(868,2.3),(874,1.2),(880,2.7),(887,1.6),(893,2.4),(899,3.1),(904,1.3),(910,2.4),(916,1.7),(921,2.9),(928,1.2),(935,2.4),(941,1.6),(947,2.4),(953,1.2),(958,0.7),(965,1.6),(971,2.8),(977,1.1),(983,0.7),(989,2.2),(995,1.1)]

blm6_black = [(0,44),(54,490),(527,945)]
blm6_red = [(42,57),(78,85),(109,123),(221,225),(230,233),(441,448),(487,528),(611,614),(705,708)]
blm6_blue = [(943,1000)]
blm6_spots = [(44,7),(810,6)]
blm6_blue_spots = [(298,1.0)]
blm6_arrows = [(54,4.35,3.4),(509,4.35,3.4)]
blm6_band_x = [0,43,47,62,80,98,115,160,185,235,270,300,330,364,422,460,487,527,545,568,613,640,680,705,741,772,799,826,855,880,900,943,960,975,1000]
blm6_band_hi = [2.05,2.0,2.6,2.4,2.15,2.1,2.55,2.05,2.2,2.15,2.0,2.2,2.1,2.0,2.15,2.35,2.1,2.8,2.55,2.45,2.05,2.2,2.45,2.55,2.3,2.1,2.3,2.05,2.7,2.15,2.1,2.1,1.05,1.05,1.55]
blm6_band_lo = [1.4,1.9,2.05,2.05,1.8,1.65,2.0,1.8,1.75,1.6,1.45,1.8,1.45,1.8,1.8,1.85,1.8,2.3,1.5,1.6,1.5,1.8,1.85,1.8,1.8,1.55,1.55,1.5,1.8,1.8,1.4,1.8,0.7,0.8,1.0]
blm6_spikes = [(5,2.15,1.2),(15,2.2,1.35),(25,2.1,1.25),(35,2.15,1.45),(48,2.85,1.95),(55,2.75,2.0),(62,2.55,2.0),(70,2.45,1.95),(78,2.4,1.85),(88,2.25,1.55),(95,2.3,1.5),(103,2.2,1.6),(110,2.35,1.9),(118,2.65,1.85),(128,2.75,1.95),(138,2.7,1.9),(148,2.6,1.85),(158,2.3,1.7),(170,2.15,1.65),(180,2.25,1.6),(190,2.35,1.65),(200,2.4,1.6),(212,2.45,1.55),(222,2.35,1.65),(232,2.25,1.45),(245,2.15,1.4),(258,2.1,1.3),(270,2.05,1.25),(282,2.1,1.3),(295,2.2,1.55),(305,2.35,1.7),(315,2.45,1.6),(325,2.25,1.35),(335,2.1,1.3),(348,2.05,1.3),(358,2.15,1.45),(372,2.2,1.65),(385,2.3,1.7),(397,2.25,1.65),(410,2.3,1.7),(428,2.45,1.75),(440,2.55,1.8),(450,2.45,1.75),(465,2.3,1.75),(478,2.3,1.7),(490,2.95,2.2),(500,3.0,2.25),(510,3.0,2.25),(520,2.95,2.3),(532,2.7,1.4),(542,2.75,1.35),(552,2.6,1.55),(562,2.5,1.5),(575,2.25,1.4),(585,2.2,1.35),(597,2.15,1.45),(607,2.3,1.65),(620,2.4,1.7),(632,2.35,1.75),(645,2.6,1.75),(655,2.7,1.8),(665,2.8,1.75),(675,2.65,1.8),(687,2.75,1.75),(697,2.6,1.75),(710,2.5,1.7),(722,2.45,1.75),(735,2.3,1.65),(748,2.2,1.5),(760,2.25,1.4),(768,2.35,1.45),(778,2.5,1.45),(790,2.35,1.45),(805,2.2,1.4),(815,2.2,1.3),(822,2.3,1.45),(832,2.95,1.8),(842,2.85,1.75),(850,2.6,1.75),(860,2.3,1.7),(870,2.2,1.75),(886,2.15,1.2),(895,2.2,1.1),(905,2.25,1.6),(918,2.3,1.65),(930,2.25,1.7),(940,2.15,1.65),(950,1.15,0.6),(958,1.1,0.65),(968,1.4,0.85),(978,1.75,0.95),(988,1.7,1.0),(996,1.65,1.0)]
blm6_probes = [(123,7.65),(44,6.67),(542,7.45),(542,6.8),(630,7.3),(933,6.76),(116,6.3),(109,5.75),(853,6.35),(810,5.65),(964,6.27),(480,5.83),(446,5.58),(506,5.43),(671,5.58),(997,5.5),(317,5.03),(581,4.9),(837,4.98),(42,4.7),(480,4.78),(934,4.59),(945,4.47),(196,4.08),(383,4.06),(772,4.13),(836,4.24),(446,3.88),(300,3.88),(190,3.62),(835,3.77),(933,3.8),(997,3.66),(114,3.5),(774,3.55),(806,3.44),(469,3.66),(457,3.44),(611,3.33),(644,3.22),(163,3.04),(300,3.08),(835,3.22),(860,3.4),(576,2.93),(634,2.83),(808,2.83),(921,2.86),(255,2.64),(306,2.64),(376,2.72),(445,2.64),(997,2.64),(973,2.07),(883,1.41),(883,1.12),(964,1.78),(999,0.04),(120,3.45),(118,3.1),(440,3.0),(448,2.9),(221,2.9),(233,2.7)]

# ---- BLM1 tumor
blm1_black = [(1,946)]
blm1_red = [(110,120),(299,302),(630,639),(744,752)]
blm1_blue = [(944,1000)]
blm1_spots = [(43,6)]
blm1_blue_spots = []
blm1_arrows = [(57,4.15,3.2),(506,4.15,3.2)]
blm1_band_x = [0,39,79,110,120,160,190,235,299,363,383,424,478,492,529,566,613,701,742,755,830,877,944,958,975,1000]
blm1_band_hi = [2.15,2.5,2.1,2.3,2.1,2.05,2.25,2.0,2.15,2.5,1.95,2.2,1.9,2.6,2.1,2.3,2.1,2.1,2.5,2.0,2.1,2.2,1.0,1.55,1.45,1.45]
blm1_band_lo = [1.8,2.05,1.7,1.7,1.7,1.75,1.95,1.65,1.8,2.05,1.5,1.8,1.35,2.15,1.55,1.85,1.75,1.8,2.0,1.6,1.8,1.75,0.9,1.1,1.1,1.1]
blm1_spikes = [(6,2.25,1.7),(16,2.2,1.65),(28,2.25,1.7),(36,2.3,1.75),(44,2.6,1.95),(54,2.65,2.0),(64,2.6,1.95),(74,2.7,1.95),(84,2.2,1.6),(93,2.2,1.55),(103,2.3,1.6),(113,2.45,1.65),(124,2.25,1.6),(135,2.2,1.55),(147,2.15,1.6),(157,2.2,1.6),(168,2.1,1.6),(178,2.2,1.65),(195,2.4,1.85),(208,2.45,1.9),(222,2.35,1.85),(240,2.15,1.5),(255,2.1,1.5),(272,2.15,1.5),(288,2.15,1.55),(305,2.3,1.65),(318,2.3,1.7),(333,2.2,1.65),(350,2.3,1.7),(366,2.55,2.0),(376,2.7,1.95),(390,2.0,1.35),(402,2.05,1.3),(416,2.05,1.4),(430,2.4,1.65),(442,2.5,1.7),(455,2.3,1.7),(470,2.35,1.7),(482,1.95,1.2),(488,1.9,1.2),(498,2.75,2.05),(508,2.8,2.1),(518,2.8,2.05),(526,2.6,2.0),(535,2.3,1.5),(548,2.15,1.4),(560,2.2,1.5),(570,2.5,1.75),(582,2.45,1.8),(595,2.3,1.75),(605,2.4,1.7),(620,2.3,1.65),(636,2.2,1.6),(652,2.25,1.6),(668,2.2,1.7),(685,2.25,1.65),(697,2.3,1.7),(712,2.25,1.65),(726,2.35,1.7),(738,2.4,1.75),(748,2.75,1.9),(760,2.2,1.5),(775,2.15,1.45),(790,2.2,1.45),(805,2.1,1.4),(820,2.15,1.45),(835,2.25,1.7),(850,2.3,1.7),(865,2.25,1.55),(884,2.4,1.65),(897,2.3,1.7),(910,2.35,1.7),(925,2.3,1.65),(938,2.25,1.6),(950,1.15,0.85),(958,1.4,0.9),(966,1.6,1.05),(974,1.65,1.05),(982,1.55,1.05),(990,1.6,1.05),(998,1.6,1.05)]
blm1_probes = [(491,7.74),(506,7.1),(833,7.92),(933,7.92),(525,8.0),(630,5.91),(316,5.88),(323,5.88),(542,5.6),(581,5.7),(855,6.06),(809,5.58),(933,5.67),(997,5.51),(112,5.15),(299,5.07),(672,4.74),(446,4.45),(840,4.47),(116,4.28),(195,4.12),(383,4.01),(936,4.23),(945,3.99),(479,4.16),(806,4.09),(191,3.72),(773,3.85),(806,3.76),(772,3.58),(833,3.61),(794,3.5),(997,3.61),(42,4.11),(5,4.27),(5,3.76),(471,3.9),(446,3.5),(112,3.39),(123,3.36),(583,3.32),(611,3.41),(642,3.43),(774,3.25),(806,3.32),(78,3.25),(39,3.21),(444,3.14),(454,3.18),(481,3.36),(237,2.99),(372,3.1),(705,3.04),(838,3.1),(921,2.99),(596,2.92),(819,2.85),(233,2.7),(256,2.74),(361,2.81),(444,2.85),(972,2.59),(975,2.37),(974,2.0),(997,2.15),(460,1.35),(566,1.28),(836,2.48),(894,2.48),(796,2.48),(5,2.41),(636,2.48),(745,2.66)]

panels = [
    dict(box=(291,111,1616,621), title='LM3937 cfDNA', tc=(990,60), xl=(956,642), black=lm3937_black, red=lm3937_red, blue=lm3937_blue, spots=lm3937_spots, arrows=lm3937_arrows, probes=lm3937_probes+lm3937_dense, hi=lm3937_hi, lo=lm3937_lo),
    dict(box=(1710,119,3031,647), title='LM3974 cfDNA', tc=(2334,66), xl=(2380,667), black=lm3974_black, red=lm3974_red, blue=lm3974_blue, spots=lm3974_spots, arrows=lm3974_arrows, probes=lm3974_probes+lm3974_dense, hi=lm3974_hi, lo=lm3974_lo),
    dict(box=(297,806,1618,1347), title='LM4012 cfDNA', tc=(944,744), xl=(960,1367), black=lm4012_black, red=lm4012_red, red4=lm4012_red4, blue=lm4012_blue, spots=lm4012_spots, blue_spots=lm4012_blue_spots, arrows=lm4012_arrows, probes=lm4012_probes+lm4012_dense, hi=lm4012_hi, lo=lm4012_lo),
    dict(box=(1716,824,3051,1345), title='LM3914 cfDNA', tc=(2366,760), xl=(2402,1362), black=lm3914_black, red=lm3914_red, blue=lm3914_blue, spots=lm3914_spots, arrows=lm3914_arrows, probes=lm3914_probes+lm3914_dense, hi=lm3914_hi, lo=lm3914_lo),
    dict(box=(328,1524,1656,2070), title='BLM6  Tumor DNA', tc=(1012,1475), xl=(996,2094), black=blm6_black, red=blm6_red, blue=blm6_blue, spots=blm6_spots, blue_spots=blm6_blue_spots, arrows=blm6_arrows, probes=blm6_probes, band=(blm6_band_x,blm6_band_hi,blm6_band_lo), spikes=blm6_spikes),
    dict(box=(1757,1528,3079,2070), title='BLM1  Tumor DNA', tc=(2342,1465), xl=(2428,2094), black=blm1_black, red=blm1_red, blue=blm1_blue, spots=blm1_spots, blue_spots=blm1_blue_spots, arrows=blm1_arrows, probes=blm1_probes, band=(blm1_band_x,blm1_band_hi,blm1_band_lo), spikes=blm1_spikes),
]

sns.set_theme(style="white")
plt.rcParams['font.family'] = ['Liberation Sans', 'DejaVu Sans']

fig = plt.figure(figsize=(W/100, H/100), dpi=100, facecolor='white')


def segs(ax, spans, level, color, halo):
    starts = [s[0] for s in spans]
    ends = [s[1] for s in spans]
    if halo is not None:
        ax.hlines([level]*len(spans), starts, ends, color=halo, linewidth=12, alpha=0.55, zorder=4)
    ax.hlines([level]*len(spans), starts, ends, color=color, linewidth=4.5, zorder=5)


for p in panels:
    x0, y0, x1, y1 = p['box']
    ax = fig.add_axes([x0/W, 1-y1/H, (x1-x0)/W, (y1-y0)/H])

    # chromosome bands
    start = 0
    mids = []
    for i, end in enumerate(chrom_end):
        ax.axvspan(start, end, color='#c9c9c9' if i % 2 else '#dfdfdf', lw=0, zorder=0)
        mids.append((start+end)/2)
        start = end

    if 'band' in p:
        bx, bhi, blo = p['band']
        ax.fill_between(bx, bhi, blo, step='post', color='#767676', lw=0, zorder=2)
        sx = [s[0] for s in p['spikes']]
        ax.vlines(sx, [s[2] for s in p['spikes']], [s[1] for s in p['spikes']], color='#767676', linewidth=7.5, zorder=2)
    else:
        for top, low, a in zip(cloud_top_shift, cloud_low_shift, cloud_alpha):
            ax.fill_between(mids, [h+top for h in p['hi']], [l+low for l in p['lo']], color='#6a6a6a', alpha=a, lw=0, zorder=1)

    probes = pd.DataFrame(p['probes'], columns=['pos','cn'])
    sns.scatterplot(data=probes, x='pos', y='cn', color='#666666', marker='s', s=24, linewidth=0, alpha=0.85, zorder=3, ax=ax)

    segs(ax, p['black'], 2, 'black', None)
    segs(ax, p['red'], 3, '#ee2a30', '#f6a6a6')
    if 'red4' in p:
        segs(ax, p['red4'], 4, '#ee2a30', '#f6a6a6')
    segs(ax, p['blue'], 1, '#16168c', '#b9b9ea')

    spots = pd.DataFrame(p['spots'], columns=['pos','cn'])
    sns.scatterplot(data=spots, x='pos', y='cn', color='#f2b8bc', marker='s', s=150, linewidth=0, alpha=0.6, zorder=5, ax=ax)
    sns.scatterplot(data=spots, x='pos', y='cn', color='#cf3350', marker='s', s=45, linewidth=0, zorder=6, ax=ax)
    if p.get('blue_spots'):
        bs = pd.DataFrame(p['blue_spots'], columns=['pos','cn'])
        sns.scatterplot(data=bs, x='pos', y='cn', color='#16168c', marker='s', s=30, linewidth=0, zorder=6, ax=ax)

    for ax_x, tail, tip in p['arrows']:
        ax.annotate('', xy=(ax_x, tip), xytext=(ax_x, tail), zorder=8,
                    arrowprops=dict(facecolor='black', edgecolor='black', width=7, headwidth=21, headlength=22, shrink=0))

    for m, name in zip(mids, chrom_names):
        ax.text(m, -0.42, name, ha='center', va='center', fontsize=13, color='#4a4a4a', zorder=7)

    ax.set_xlim(0, 1000)
    ax.set_ylim(-0.75, 8)
    ax.set_xticks([])
    ax.set_yticks(cn_ticks)
    ax.set_yticklabels([str(c) for c in cn_ticks], rotation=90, va='center', fontsize=11, color='#555555')
    ax.tick_params(axis='y', length=0, pad=1)
    ax.set_xlabel('')
    ax.set_ylabel('Copy Number', fontsize=16, color='#444444')
    ax.yaxis.set_label_coords(-0.02, 0.62)
    for side in ['left','right']:
        ax.spines[side].set_visible(False)
    ax.spines['bottom'].set_color('#b0b0b0')
    ax.spines['bottom'].set_linewidth(4)
    ax.spines['top'].set_color('#cfcfcf')
    ax.spines['top'].set_linewidth(3)

    fig.text(p['tc'][0]/W, 1-p['tc'][1]/H, p['title'], ha='center', va='center', fontsize=43, color='#1c1c1c')
    fig.text(p['xl'][0]/W, 1-p['xl'][1]/H, 'Chromosome', ha='center', va='center', fontsize=14, color='#555555')

fig.text(90/W, 1-90/H, 'A', ha='center', va='center', fontsize=76, fontweight='bold', color='black')
fig.text(84/W, 1-1445/H, 'B', ha='center', va='center', fontsize=76, fontweight='bold', color='black')

fig.savefig('out.png', dpi=100)
